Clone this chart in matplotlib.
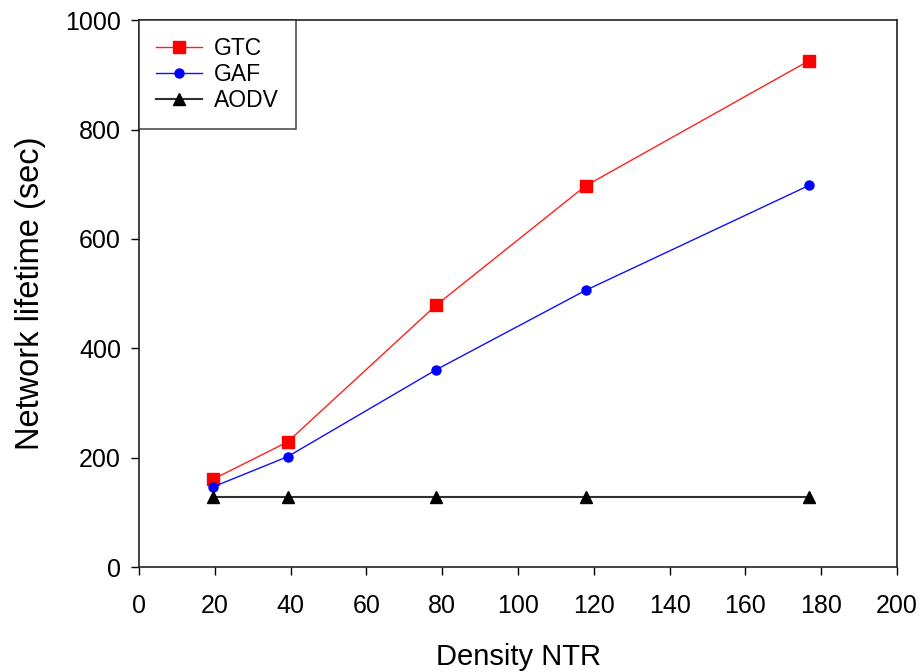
import matplotlib.pyplot as plt

density = [19.6, 39.2, 78.4, 117.8, 176.8]
gtc = [161, 229, 479, 697, 926]
gaf = [147, 202, 361, 506, 698]
aodv = [128, 128, 128, 128, 128]

plt.rcParams['font.family'] = ['Liberation Sans', 'DejaVu Sans']

fig = plt.figure(figsize=(9.21, 6.72), dpi=100)
ax = fig.add_axes([0.151, 0.156, 0.823, 0.814])

ax.plot(density, gtc, color='#ff2020', linewidth=1, marker='s', markersize=8.5,
        markerfacecolor='red', markeredgecolor='red', label='GTC')
ax.plot(density, gaf, color='#1010ff', linewidth=1, marker='o', markersize=6.5,
        markerfacecolor='blue', markeredgecolor='blue', label='GAF')
ax.plot(density, aodv, color='#303030', linewidth=1.5, marker='^', markersize=8,
        markerfacecolor='black', markeredgecolor='black', label='AODV')

ax.set_xlim(0, 200)
ax.set_ylim(0, 1000)
ax.set_xticks(range(0, 201, 20))
ax.set_yticks(range(0, 1001, 200))
ax.tick_params(axis='x', direction='out', length=6, width=1, labelsize=18, pad=13)
ax.tick_params(axis='y', direction='out', length=6, width=1, labelsize=18, pad=7)
ax.tick_params(top=False, right=False)
for s in ax.spines.values():
    s.set_linewidth(1.2)
    s.set_color('#222222')

ax.set_xlabel('Density NTR', fontsize=21, labelpad=18)
ax.set_ylabel('Network lifetime (sec)', fontsize=23.5, labelpad=14)

leg = ax.legend(loc='upper left', bbox_to_anchor=(0, 1), borderaxespad=0,
                fontsize=16.5, fancybox=False, edgecolor='#222222',
                handlelength=2.0, borderpad=0.75, labelspacing=0.12,
                handletextpad=0.5)
leg.get_frame().set_linewidth(1.2)

plt.savefig('out.png', dpi=100)
